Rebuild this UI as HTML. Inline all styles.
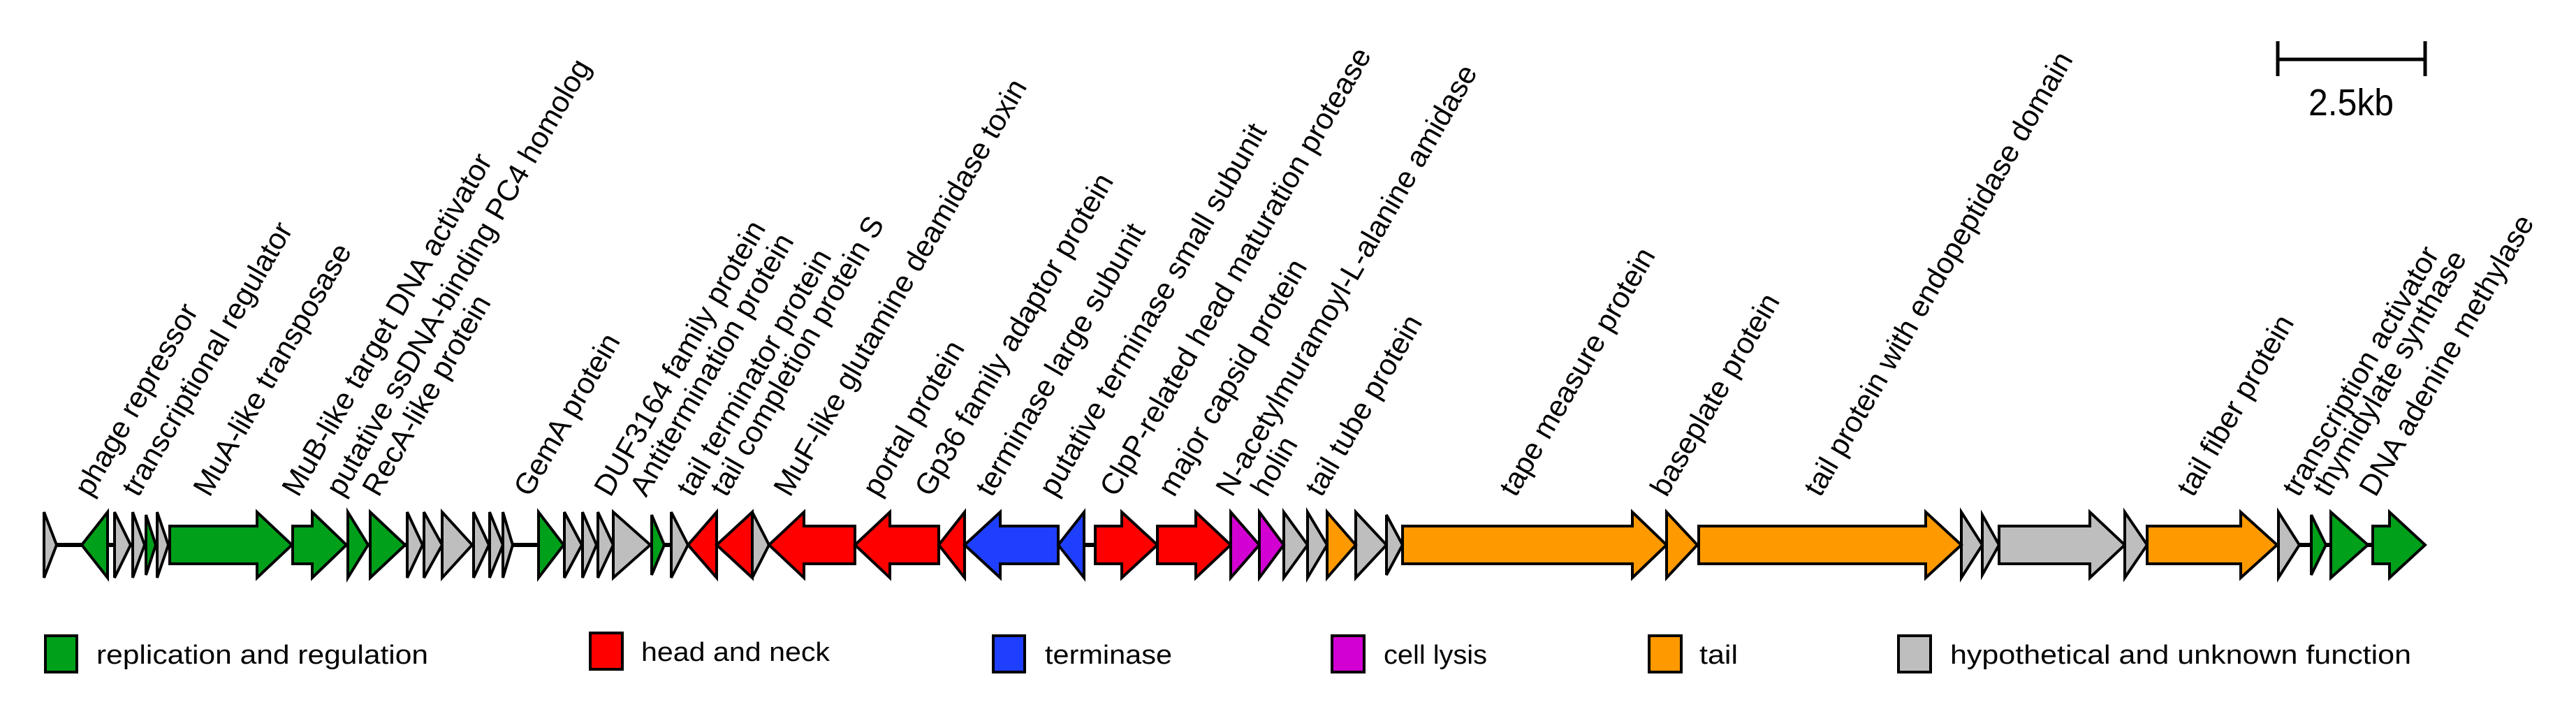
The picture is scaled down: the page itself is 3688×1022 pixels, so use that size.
<!DOCTYPE html>
<html><head><meta charset="utf-8"><style>
html,body{margin:0;padding:0;background:#fff;}
svg{display:block;}
text{font-family:"Liberation Sans",sans-serif;fill:#000;}
</style></head><body>
<svg width="3688" height="1022" viewBox="0 0 3688 1022" xmlns="http://www.w3.org/2000/svg">
<line x1="81" y1="780" x2="3400" y2="780" stroke="#000" stroke-width="6"/>
<g stroke="#000" stroke-width="4" stroke-linejoin="miter">
<g fill="#BEBEBE">
<polygon points="63,733 81,780 63,827"/>
<polygon points="164,733 187,780 164,827"/>
<polygon points="190,733 207,780 190,827"/>
<polygon points="225,733 241,780 225,827"/>
<polygon points="583,733 605,780 583,827"/>
<polygon points="607,733 633,780 607,827"/>
<polygon points="633,733 676,780 633,827"/>
<polygon points="678,733 700,780 678,827"/>
<polygon points="701,733 720,780 701,827"/>
<polygon points="720,733 734,780 720,827"/>
<polygon points="808,733 833,780 808,827"/>
<polygon points="834,733 854,780 834,827"/>
<polygon points="856,733 878,780 856,827"/>
<polygon points="878,733 931,780 878,827"/>
<polygon points="961,733 985,780 961,827"/>
<polygon points="1077,733 1101,780 1077,827"/>
<polygon points="1838,733 1872,780 1838,827"/>
<polygon points="1872,733 1900,780 1872,827"/>
<polygon points="1941,733 1985,780 1941,827"/>
<polygon points="1985,737 2008,780 1985,823"/>
<polygon points="2808,733 2838,780 2808,827"/>
<polygon points="2838,737 2862,780 2838,823"/>
<polygon points="2862,753 2992,753 2992,733 3042,780 2992,827 2992,807 2862,807"/>
<polygon points="3042,733 3074,780 3042,827"/>
<polygon points="3262,733 3292,780 3262,827"/>
</g>
<g fill="#00A01A">
<polygon points="117,780 154,733 154,827"/>
<polygon points="209,737 223,780 209,823"/>
<polygon points="243,753 368,753 368,733 418,780 368,827 368,807 243,807"/>
<polygon points="419,753 447,753 447,733 496,780 447,827 447,807 419,807"/>
<polygon points="498,733 527,780 498,827"/>
<polygon points="530,733 580,780 530,827"/>
<polygon points="771,733 807,780 771,827"/>
<polygon points="933,737 951,780 933,823"/>
<polygon points="3309,737 3330,780 3309,823"/>
<polygon points="3337,733 3390,780 3337,827"/>
<polygon points="3397,753 3421,753 3421,733 3472,780 3421,827 3421,807 3397,807"/>
</g>
<g fill="#FF0000">
<polygon points="985,780 1026,733 1026,827"/>
<polygon points="1026,780 1077,733 1077,827"/>
<polygon points="1101,780 1151,733 1151,753 1224,753 1224,807 1151,807 1151,827"/>
<polygon points="1224,780 1274,733 1274,753 1344,753 1344,807 1274,807 1274,827"/>
<polygon points="1344,780 1381,733 1381,827"/>
<polygon points="1568,753 1606,753 1606,733 1657,780 1606,827 1606,807 1568,807"/>
<polygon points="1657,753 1712,753 1712,733 1762,780 1712,827 1712,807 1657,807"/>
</g>
<g fill="#1F3FFF">
<polygon points="1381,780 1432,733 1432,753 1515,753 1515,807 1432,807 1432,827"/>
<polygon points="1515,780 1552,733 1552,827"/>
</g>
<g fill="#D200D2">
<polygon points="1762,733 1803,780 1762,827"/>
<polygon points="1803,733 1838,780 1803,827"/>
</g>
<g fill="#FF9900">
<polygon points="1900,733 1941,780 1900,827"/>
<polygon points="2008,753 2337,753 2337,733 2386,780 2337,827 2337,807 2008,807"/>
<polygon points="2386,733 2430,780 2386,827"/>
<polygon points="2432,753 2757,753 2757,733 2808,780 2757,827 2757,807 2432,807"/>
<polygon points="3074,753 3208,753 3208,733 3260,780 3208,827 3208,807 3074,807"/>
</g>
</g>
<g font-size="42.5">
<text transform="translate(130,713) rotate(-60)">phage repressor</text>
<text transform="translate(198,713) rotate(-60)">transcriptional regulator</text>
<text transform="translate(300,713) rotate(-60)">MuA-like transposase</text>
<text transform="translate(427,713) rotate(-60)">MuB-like target DNA activator</text>
<text transform="translate(490,713) rotate(-60)">putative ssDNA-binding PC4 homolog</text>
<text transform="translate(542,713) rotate(-60)">RecA-like protein</text>
<text transform="translate(759,713) rotate(-60)">GemA protein</text>
<text transform="translate(874,713) rotate(-60)">DUF3164 family protein</text>
<text transform="translate(925,713) rotate(-60)">Antitermination protein</text>
<text transform="translate(992,713) rotate(-60)">tail terminator protein</text>
<text transform="translate(1040,713) rotate(-60)">tail completion protein S</text>
<text transform="translate(1131,713) rotate(-60)">MuF-like glutamine deamidase toxin</text>
<text transform="translate(1258,713) rotate(-60)">portal protein</text>
<text transform="translate(1333,713) rotate(-60)">Gp36 family adaptor protein</text>
<text transform="translate(1420,713) rotate(-60)">terminase large subunit</text>
<text transform="translate(1511,713) rotate(-60)">putative terminase small subunit</text>
<text transform="translate(1598,713) rotate(-60)">ClpP-related head maturation protease</text>
<text transform="translate(1681,713) rotate(-60)">major capsid protein</text>
<text transform="translate(1764,713) rotate(-60)">N-acetylmuramoyl-L-alanine amidase</text>
<text transform="translate(1814,713) rotate(-60)">holin</text>
<text transform="translate(1892,713) rotate(-60)">tail tube protein</text>
<text transform="translate(2170,713) rotate(-60)">tape measure protein</text>
<text transform="translate(2386,713) rotate(-60)">baseplate protein</text>
<text transform="translate(2606,713) rotate(-60)">tail protein with endopeptidase domain</text>
<text transform="translate(3140,713) rotate(-60)">tail fiber protein</text>
<text transform="translate(3291,713) rotate(-60)">transcription activator</text>
<text transform="translate(3334,713) rotate(-60)">thymidylate synthase</text>
<text transform="translate(3401,713) rotate(-60)">DNA adenine methylase</text>
</g>
<g stroke="#000" stroke-width="5">
<line x1="3261" y1="85" x2="3472" y2="85"/>
<line x1="3261" y1="59" x2="3261" y2="109"/>
<line x1="3472" y1="59" x2="3472" y2="109"/>
</g>
<text x="3366" y="165" font-size="54" text-anchor="middle" textLength="122" lengthAdjust="spacingAndGlyphs">2.5kb</text>
<g stroke="#000" stroke-width="4">
<rect x="65" y="910" width="45" height="52" fill="#00A01A"/>
<rect x="845" y="906" width="46" height="52" fill="#FF0000"/>
<rect x="1422" y="910" width="45" height="52" fill="#1F3FFF"/>
<rect x="1907" y="910" width="46" height="52" fill="#D200D2"/>
<rect x="2361" y="910" width="46" height="52" fill="#FF9900"/>
<rect x="2718" y="910" width="46" height="52" fill="#BEBEBE"/>
</g>
<g font-size="38">
<text x="138" y="950" textLength="475" lengthAdjust="spacingAndGlyphs">replication and regulation</text>
<text x="918" y="946" textLength="270" lengthAdjust="spacingAndGlyphs">head and neck</text>
<text x="1496" y="950" textLength="182" lengthAdjust="spacingAndGlyphs">terminase</text>
<text x="1981" y="950" textLength="148" lengthAdjust="spacingAndGlyphs">cell lysis</text>
<text x="2433" y="950" textLength="55" lengthAdjust="spacingAndGlyphs">tail</text>
<text x="2792" y="950" textLength="660" lengthAdjust="spacingAndGlyphs">hypothetical and unknown function</text>
</g>
</svg>
</body></html>
